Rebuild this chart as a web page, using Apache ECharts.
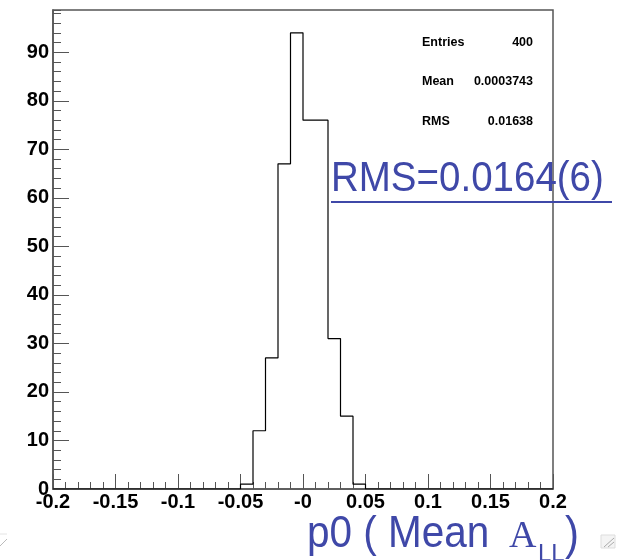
<!DOCTYPE html>
<html>
<head>
<meta charset="utf-8">
<script src="https://cdn.jsdelivr.net/npm/echarts@6/dist/echarts.min.js"></script>
<style>html,body{margin:0;padding:0;background:#fff;}#chart{width:627px;height:560px;}</style>
</head>
<body>
<div id="chart"></div>
<script>
// Histogram definition: 40 bins of width 0.01 from -0.2 to 0.2
var binLow = -0.2;
var binWidth = 0.01;
var binCounts = [
  0,0,0,0,0,0,0,0,0,0,
  0,0,0,0,0,1,12,27,67,94,
  76,76,31,15,1,0,0,0,0,0,
  0,0,0,0,0,0,0,0,0,0
];
var xMin = -0.2, xMax = 0.2, xInterval = 0.05, xMinorInterval = 0.01;
var yMin = 0, yMax = 98.7, yInterval = 10, yMinorInterval = 2;
var statsLabels = ['Entries', 'Mean', 'RMS'];
var statsValues = ['400', '0.0003743', '0.01638'];
var annotationText = 'RMS=0.0164(6)';
var xTitleParts = ['p0 ( Mean ', 'A', 'LL', ')'];

var lineData = [];
for (var i = 0; i < binCounts.length; i++) {
  lineData.push([Math.round((binLow + i * binWidth) * 1e6) / 1e6, binCounts[i]]);
}
lineData.push([Math.round((binLow + binCounts.length * binWidth) * 1e6) / 1e6, binCounts[binCounts.length - 1]]);

var blue = '#3f48a8';
var axisColor = '#555';
var chart = echarts.init(document.getElementById('chart'));

var statsGraphics = [];
var statsY = [43, 82, 122];
for (var k = 0; k < statsLabels.length; k++) {
  statsGraphics.push({type: 'text', x: 422, y: statsY[k], style: {text: statsLabels[k], fontSize: 12.5, fontWeight: 'bold', fontFamily: 'Liberation Sans', fill: '#000', align: 'left', verticalAlign: 'middle'}});
  statsGraphics.push({type: 'text', x: 533, y: statsY[k], style: {text: statsValues[k], fontSize: 12.5, fontWeight: 'bold', fontFamily: 'Liberation Sans', fill: '#000', align: 'right', verticalAlign: 'middle'}});
}

var option = {
  animation: false,
  backgroundColor: '#fff',
  grid: {left: 53, right: 74, top: 10, bottom: 71, show: true, borderColor: axisColor, borderWidth: 1.5, backgroundColor: 'transparent'},
  xAxis: [{
    type: 'value', min: xMin, max: xMax, interval: xInterval, position: 'bottom',
    axisLine: {show: true, onZero: false, lineStyle: {color: axisColor, width: 1.5}},
    axisTick: {show: true, inside: true, length: 15, lineStyle: {color: axisColor, width: 1}},
    splitLine: {show: false},
    axisLabel: {
      fontSize: 20, fontWeight: 'bold', fontFamily: 'Liberation Sans', color: '#000', margin: 3,
      formatter: function (v) { return Math.abs(v) < 1e-9 ? '-0' : String(parseFloat(v.toFixed(3))); }
    }
  }, {
    type: 'value', min: xMin, max: xMax, interval: xMinorInterval, position: 'bottom',
    axisLine: {show: false, onZero: false},
    axisTick: {show: true, inside: true, length: 7, lineStyle: {color: axisColor, width: 1}},
    splitLine: {show: false},
    axisLabel: {show: false}
  }],
  yAxis: [{
    type: 'value', min: yMin, max: yMax, interval: yInterval, position: 'left',
    axisLine: {show: true, onZero: false, lineStyle: {color: axisColor, width: 1.5}},
    axisTick: {show: true, inside: true, length: 16, lineStyle: {color: axisColor, width: 1}},
    splitLine: {show: false},
    axisLabel: {fontSize: 20, fontWeight: 'bold', fontFamily: 'Liberation Sans', color: '#000', margin: 4, showMaxLabel: false}
  }, {
    type: 'value', min: yMin, max: yMax, interval: yMinorInterval, position: 'left',
    axisLine: {show: false, onZero: false},
    axisTick: {show: true, inside: true, length: 8, lineStyle: {color: axisColor, width: 1}},
    splitLine: {show: false},
    axisLabel: {show: false}
  }],
  series: [{
    type: 'line', step: 'end', data: lineData, xAxisIndex: 0, yAxisIndex: 0,
    symbol: 'none', lineStyle: {color: '#000', width: 1.2}, z: 5
  }],
  graphic: statsGraphics.concat([
    {type: 'text', x: 331, y: 201, scaleY: 1.12,
      style: {text: annotationText, fontSize: 38.5, fontFamily: 'Liberation Sans', fill: blue, align: 'left', verticalAlign: 'bottom'}},
    {type: 'line', shape: {x1: 331, y1: 202, x2: 612, y2: 202}, style: {stroke: blue, lineWidth: 2}},
    {type: 'text', x: 307, y: 557, scaleY: 1.08,
      style: {text: xTitleParts[0], fontSize: 40.5, fontFamily: 'Liberation Sans', fill: blue, align: 'left', verticalAlign: 'bottom'}},
    {type: 'text', x: 509, y: 556,
      style: {text: xTitleParts[1], fontSize: 38, fontFamily: 'Liberation Serif', fill: blue, align: 'left', verticalAlign: 'bottom'}},
    {type: 'text', x: 538, y: 566,
      style: {text: xTitleParts[2], fontSize: 24, fontFamily: 'Liberation Sans', fill: blue, align: 'left', verticalAlign: 'bottom'}},
    {type: 'text', x: 565, y: 559, scaleY: 1.1,
      style: {text: xTitleParts[3], fontSize: 42, fontFamily: 'Liberation Sans', fill: blue, align: 'left', verticalAlign: 'bottom'}},
    {type: 'rect', shape: {x: 601, y: 535, width: 14, height: 13}, style: {fill: '#f4f4f4', stroke: '#ddd', lineWidth: 1}},
    {type: 'line', shape: {x1: 604, y1: 547, x2: 614, y2: 538}, style: {stroke: '#aaa', lineWidth: 1}},
    {type: 'line', shape: {x1: 608, y1: 547, x2: 614, y2: 542}, style: {stroke: '#aaa', lineWidth: 1}},
    {type: 'line', shape: {x1: 0, y1: 534, x2: 7, y2: 534}, style: {stroke: '#e4e4e4', lineWidth: 1}},
    {type: 'line', shape: {x1: 0, y1: 546, x2: 7, y2: 539}, style: {stroke: '#bbb', lineWidth: 1}}
  ])
};
chart.setOption(option);
</script>
</body>
</html>
